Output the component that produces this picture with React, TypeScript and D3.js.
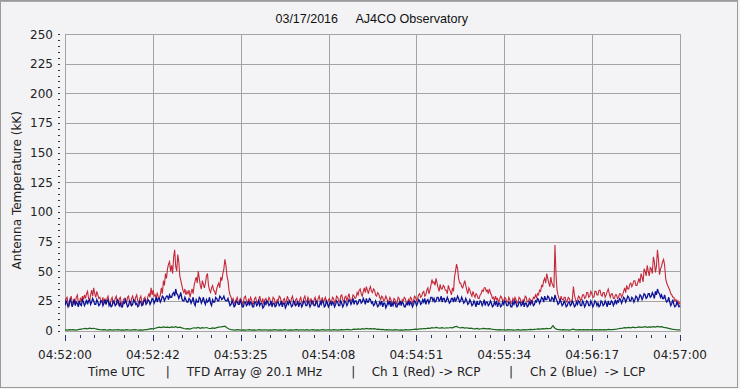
import React from "react";
import * as d3 from "d3";

// Time axis: seconds after 04:52:00 UTC (0..300 s)
const xTickLabels = ["04:52:00", "04:52:42", "04:53:25", "04:54:08", "04:54:51", "04:55:34", "04:56:17", "04:57:00"];
const yTickValues = [0, 25, 50, 75, 100, 125, 150, 175, 200, 225, 250];
const titleDate = "03/17/2016";
const titleSite = "AJ4CO Observatory";
const captionParts = ["Time UTC", "|", "TFD Array @ 20.1 MHz", "|", "Ch 1 (Red) -> RCP", "|", "Ch 2 (Blue)  -> LCP"];

// Ch 1 (Red) -> RCP, two samples per second (each row = 10 s)
const redSeries = [
  22, 27, 28, 23, 21, 26, 29, 24, 23, 27, 22, 28, 30, 24, 23, 27, 25, 29, 26, 30,
  27, 31, 33, 27, 25, 30, 34, 29, 36, 31, 28, 33, 30, 27, 28, 25, 24, 28, 23, 27,
  22, 27, 29, 24, 21, 26, 28, 23, 24, 27, 29, 24, 22, 27, 28, 23, 21, 26, 27, 24,
  23, 28, 29, 24, 22, 27, 29, 25, 24, 28, 30, 25, 23, 27, 29, 24, 22, 27, 28, 24,
  25, 29, 31, 28, 36, 30, 34, 29, 30, 27, 32, 28, 27, 30, 36, 31, 42, 38, 48, 44,
  52, 56, 58, 50, 55, 48, 62, 68, 54, 50, 64, 58, 46, 42, 38, 34, 32, 35, 30, 33,
  31, 34, 28, 32, 35, 31, 38, 42, 45, 40, 50, 44, 38, 35, 42, 39, 36, 40, 46, 48,
  38, 34, 32, 36, 38, 34, 33, 30, 35, 38, 40, 36, 45, 42, 48, 52, 60, 55, 46, 42,
  34, 30, 28, 25, 27, 24, 22, 26, 28, 24, 23, 27, 26, 22, 24, 28, 29, 25, 22, 26,
  24, 28, 26, 22, 23, 27, 28, 24, 23, 26, 29, 25, 24, 27, 22, 26, 27, 23, 25, 28,
  26, 22, 23, 28, 27, 24, 22, 26, 25, 29, 28, 24, 22, 26, 27, 23, 25, 29, 26, 24,
  23, 27, 29, 24, 22, 26, 27, 23, 22, 26, 28, 24, 23, 27, 29, 25, 24, 28, 26, 23,
  27, 23, 22, 26, 28, 24, 23, 27, 29, 25, 24, 28, 23, 26, 28, 24, 22, 26, 27, 24,
  24, 28, 27, 23, 25, 29, 28, 25, 24, 29, 30, 26, 24, 28, 29, 25, 28, 31, 27, 25,
  26, 30, 29, 27, 28, 32, 30, 34, 35, 31, 29, 33, 36, 32, 37, 34, 31, 35, 37, 33,
  32, 35, 34, 30, 29, 32, 31, 28, 26, 29, 28, 25, 26, 29, 27, 24, 25, 28, 26, 23,
  23, 27, 26, 22, 24, 28, 27, 23, 22, 26, 25, 28, 27, 23, 22, 26, 24, 28, 27, 23,
  25, 29, 28, 25, 27, 30, 31, 28, 29, 32, 33, 29, 30, 34, 36, 31, 34, 38, 43, 40,
  41, 38, 44, 40, 36, 33, 39, 35, 35, 38, 37, 34, 34, 31, 38, 35, 33, 30, 36, 33,
  45, 50, 56, 52, 44, 40, 40, 37, 36, 39, 42, 38, 34, 31, 36, 34, 31, 29, 33, 30,
  28, 31, 30, 27, 27, 30, 31, 34, 33, 36, 36, 33, 34, 31, 35, 32, 30, 27, 28, 25,
  29, 26, 27, 24, 26, 29, 28, 25, 25, 28, 27, 24, 24, 28, 26, 23, 23, 27, 25, 28,
  26, 23, 24, 28, 27, 24, 23, 26, 25, 29, 28, 24, 24, 27, 26, 23, 25, 28, 27, 30,
  28, 31, 30, 34, 33, 38, 37, 42, 44, 40, 48, 44, 40, 37, 45, 40, 38, 36, 72, 48,
  34, 30, 27, 25, 29, 26, 26, 28, 28, 24, 25, 28, 27, 24, 24, 27, 37, 30, 26, 24,
  26, 29, 28, 25, 27, 30, 30, 27, 28, 32, 32, 28, 29, 33, 31, 28, 28, 33, 33, 30,
  30, 34, 34, 30, 29, 32, 32, 28, 30, 33, 35, 31, 28, 31, 31, 27, 27, 30, 30, 27,
  28, 31, 31, 28, 30, 33, 36, 32, 38, 35, 35, 39, 40, 37, 39, 42, 42, 38, 38, 41,
  44, 40, 48, 45, 41, 52, 50, 46, 55, 50, 46, 53, 52, 48, 62, 58, 49, 54, 68, 60,
  47, 52, 54, 58, 60, 55, 44, 40, 38, 36, 34, 31, 30, 28, 28, 25, 26, 23, 25, 22,
  24,
];

// Ch 2 (Blue) -> LCP, two samples per second
const blueSeries = [
  21, 25, 23, 20, 22, 26, 24, 20, 23, 26, 21, 24, 23, 20, 25, 22, 21, 26, 24, 21,
  23, 26, 22, 25, 26, 22, 24, 27, 25, 22, 22, 26, 24, 21, 22, 25, 25, 21, 23, 26,
  22, 25, 26, 21, 23, 20, 21, 25, 24, 21, 22, 26, 25, 21, 23, 20, 20, 24, 23, 26,
  23, 20, 21, 25, 24, 21, 22, 26, 25, 22, 23, 20, 21, 25, 24, 21, 22, 25, 26, 22,
  23, 26, 25, 22, 24, 27, 26, 23, 25, 28, 24, 27, 27, 24, 26, 29, 28, 25, 27, 29,
  29, 26, 30, 28, 28, 31, 32, 29, 35, 31, 30, 27, 29, 32, 27, 25, 25, 28, 26, 24,
  24, 27, 26, 23, 25, 28, 23, 21, 26, 24, 24, 28, 27, 23, 25, 28, 24, 22, 26, 24,
  25, 28, 23, 21, 26, 24, 24, 28, 27, 25, 25, 29, 28, 26, 27, 29, 26, 25, 25, 27,
  24, 21, 22, 25, 23, 20, 21, 25, 24, 22, 22, 26, 23, 20, 20, 24, 24, 21, 22, 25,
  21, 24, 23, 20, 20, 24, 24, 21, 22, 26, 21, 23, 23, 19, 20, 24, 22, 25, 24, 21,
  22, 25, 20, 23, 23, 20, 21, 24, 24, 21, 22, 25, 20, 23, 23, 19, 21, 24, 22, 25,
  23, 20, 21, 25, 24, 21, 22, 25, 20, 23, 23, 20, 22, 25, 24, 21, 21, 25, 23, 20,
  22, 25, 24, 21, 21, 25, 23, 20, 20, 24, 22, 25, 24, 20, 21, 25, 23, 20, 22, 25,
  21, 24, 23, 20, 22, 25, 24, 21, 21, 25, 23, 20, 22, 25, 24, 21, 23, 26, 25, 22,
  24, 27, 22, 25, 25, 22, 23, 26, 26, 23, 24, 27, 25, 22, 27, 24, 24, 27, 26, 23,
  24, 21, 22, 25, 23, 20, 21, 24, 22, 25, 20, 23, 23, 19, 21, 24, 22, 25, 20, 23,
  21, 24, 23, 20, 20, 23, 22, 25, 21, 24, 23, 20, 20, 23, 22, 25, 21, 24, 23, 20,
  22, 25, 24, 21, 23, 26, 25, 22, 23, 26, 24, 27, 22, 25, 26, 23, 25, 28, 28, 25,
  27, 24, 25, 28, 28, 25, 26, 29, 24, 27, 27, 24, 25, 28, 26, 23, 24, 27, 27, 24,
  28, 25, 26, 29, 27, 24, 25, 28, 26, 23, 24, 27, 25, 22, 23, 26, 24, 21, 22, 25,
  23, 20, 25, 22, 22, 25, 24, 21, 23, 26, 21, 24, 24, 21, 22, 25, 23, 20, 21, 24,
  22, 25, 20, 23, 23, 20, 21, 24, 22, 25, 24, 21, 21, 24, 23, 20, 20, 24, 22, 25,
  23, 20, 21, 24, 24, 21, 22, 25, 20, 23, 23, 20, 21, 24, 22, 25, 24, 21, 22, 25,
  24, 27, 26, 23, 25, 28, 27, 24, 29, 26, 26, 29, 28, 25, 25, 28, 27, 24, 30, 27,
  25, 22, 23, 26, 24, 21, 22, 25, 23, 20, 21, 24, 24, 21, 22, 25, 23, 20, 21, 24,
  22, 25, 24, 21, 21, 25, 23, 20, 22, 25, 24, 21, 21, 25, 23, 20, 22, 25, 24, 21,
  23, 20, 21, 25, 24, 21, 22, 25, 23, 20, 25, 22, 22, 25, 24, 21, 23, 26, 22, 25,
  24, 27, 26, 23, 25, 28, 27, 24, 26, 29, 28, 25, 25, 28, 27, 24, 26, 29, 28, 25,
  27, 30, 29, 26, 28, 31, 30, 27, 28, 31, 31, 28, 29, 32, 30, 27, 33, 30, 35, 32,
  31, 28, 30, 27, 27, 30, 26, 24, 25, 28, 24, 21, 23, 26, 22, 20, 21, 24, 22, 20,
  21,
];

// Green trace near zero, one sample per second
const greenSeries = [
  0.6, 0.4, 0.8, 0.5, 0.7, 0.3, 0.6, 0.9, 1.2, 1.5,
  1.8, 1.4, 2.0, 1.6, 1.9, 1.3, 1.0, 0.7, 0.5, 0.8,
  0.5, 0.3, 0.7, 0.4, 0.6, 0.5, 0.8, 0.4, 0.6, 0.3,
  0.7, 0.5, 0.4, 0.6, 0.8, 0.5, 0.3, 0.6, 0.4, 0.7,
  0.8, 1.2, 1.6, 1.3, 1.9, 2.4, 2.8, 2.5, 3.0, 2.6,
  2.9, 2.4, 3.1, 2.7, 3.2, 2.5, 2.8, 2.2, 1.7, 1.4,
  1.6, 1.2, 1.9, 2.3, 2.0, 2.6, 1.8, 2.4, 2.1, 2.5,
  1.9, 1.6, 2.2, 1.8, 2.4, 2.8, 3.0, 3.3, 3.6, 2.4,
  1.3, 0.8, 0.6, 0.4, 0.7, 0.5, 0.3, 0.6, 0.4, 0.5,
  0.7, 0.4, 0.6, 0.3, 0.5, 0.8, 0.4, 0.6, 0.5, 0.3,
  0.6, 0.4, 0.7, 0.5, 0.3, 0.6, 0.4, 0.8, 0.5, 0.4,
  0.6, 0.3, 0.5, 0.7, 0.4, 0.6, 0.5, 0.3, 0.7, 0.4,
  0.5, 0.8, 0.4, 0.6, 0.3, 0.5, 0.7, 0.4, 0.6, 0.5,
  0.4, 0.7, 0.5, 0.3, 0.6, 0.8, 0.5, 0.7, 0.9, 0.6,
  0.8, 1.1, 0.9, 1.3, 1.0, 1.5, 1.2, 1.7, 1.4, 1.6,
  1.3, 1.5, 1.0, 1.2, 0.8, 0.9, 0.6, 0.7, 0.5, 0.6,
  0.4, 0.7, 0.5, 0.3, 0.6, 0.4, 0.7, 0.5, 0.6, 0.8,
  0.9, 1.2, 1.0, 1.4, 1.3, 1.7, 1.5, 2.0, 1.8, 2.4,
  2.1, 2.6, 2.2, 2.0, 2.4, 1.9, 2.3, 2.1, 2.5, 2.2,
  3.0, 3.4, 2.5, 2.2, 2.6, 2.0, 2.3, 1.8, 2.0, 1.6,
  1.4, 1.7, 1.2, 1.5, 1.8, 1.6, 1.3, 1.5, 1.1, 0.9,
  0.8, 0.6, 0.7, 0.5, 0.6, 0.4, 0.7, 0.5, 0.6, 0.4,
  0.5, 0.7, 0.4, 0.6, 0.8, 0.5, 0.7, 0.9, 0.8, 1.0,
  1.1, 1.3, 1.2, 1.6, 1.4, 1.8, 1.5, 1.7, 4.0, 1.9,
  1.0, 0.8, 0.6, 0.7, 0.5, 0.6, 0.4, 0.7, 1.2, 0.6,
  0.5, 0.7, 0.6, 0.8, 0.5, 0.7, 0.6, 0.8, 0.5, 0.7,
  0.6, 0.8, 0.5, 0.7, 0.6, 0.9, 0.7, 0.8, 1.0, 1.2,
  1.5, 1.8, 2.0, 2.4, 2.2, 2.6, 2.3, 2.8, 2.5, 2.7,
  3.0, 2.6, 2.9, 3.2, 2.7, 3.1, 2.8, 3.3, 2.9, 3.5,
  3.0, 3.2, 2.7, 2.4, 2.0, 1.6, 1.2, 0.9, 0.7, 0.6,
  0.5,
];

const W = 740;
const H = 389;
const FONT = "'DejaVu Sans', Verdana, sans-serif";

export default function App() {
  const duration = 300;
  const x = d3.scaleLinear().domain([0, duration]).range([65, 680]);
  const y = d3.scaleLinear().domain([0, 250]).range([330.5, 34]);

  const makeLine = (n: number) =>
    d3
      .line<number>()
      .x((_, i) => x((i * duration) / (n - 1)))
      .y((d) => y(d));

  const majorT = d3.range(xTickLabels.length).map((i) => (i * duration) / (xTickLabels.length - 1));
  const minorT = d3.range((xTickLabels.length - 1) * 6 + 1).map((i) => (i * duration) / ((xTickLabels.length - 1) * 6));
  const yMinor = d3.range(0, 251, 5);

  const px = (v: number) => Math.round(v) + 0.5;
  const gridColor = "#a4a4a4";

  const captionX = [88, 167.7, 186.7, 353.3, 371.7, 511, 530];

  return (
    <div style={{ position: "absolute", left: 0, top: 0 }}>
      <svg width={W} height={H} viewBox={`0 0 ${W} ${H}`} style={{ display: "block" }}>
        <rect x={0} y={0} width={W} height={H} fill="#f3f3f5" />
        <rect x={0.5} y={0.5} width={737} height={387} fill="none" stroke="#9a9a9a" />
        <line x1={0} x2={738} y1={1.5} y2={1.5} stroke="#a8a8a8" />

        {/* Title */}
        <text x={275.5} y={23} fontFamily="'Liberation Sans Narrow', 'Liberation Sans', Arial, sans-serif" fontSize={13} fill="#111" textLength={62.5} lengthAdjust="spacingAndGlyphs">
          {titleDate}
        </text>
        <text x={355.4} y={23} fontFamily="'Liberation Sans Narrow', 'Liberation Sans', Arial, sans-serif" fontSize={13} fill="#111" textLength={112.6} lengthAdjust="spacingAndGlyphs">
          {titleSite}
        </text>

        {/* Plot area */}
        <rect x={px(x(0))} y={px(y(250))} width={Math.round(x(duration)) - Math.round(x(0))} height={Math.round(y(0)) - Math.round(y(250))} fill="#f4f4f6" />

        {/* Horizontal grid */}
        {yTickValues.map((v) => (
          <line key={"hg" + v} x1={x(0)} x2={x(duration)} y1={px(y(v))} y2={px(y(v))} stroke={gridColor} strokeWidth={1} />
        ))}
        {/* Vertical grid */}
        {majorT.map((t, i) => (
          <line key={"vg" + i} x1={px(x(t))} x2={px(x(t))} y1={y(250)} y2={y(0)} stroke={gridColor} strokeWidth={1} />
        ))}
        <rect x={px(x(0))} y={px(y(250))} width={Math.round(x(duration)) - Math.round(x(0))} height={Math.round(y(0)) - Math.round(y(250))} fill="none" stroke={gridColor} />

        {/* Data lines */}
        <g clipPath="url(#plotclip)">
          <path d={makeLine(greenSeries.length)(greenSeries) || ""} fill="none" stroke="#1a661a" strokeWidth={1.2} />
          <path d={makeLine(redSeries.length)(redSeries) || ""} fill="none" stroke="#c4283a" strokeWidth={1.1} />
          <path d={makeLine(blueSeries.length)(blueSeries) || ""} fill="none" stroke="#0c1296" strokeWidth={1.3} />
        </g>
        <defs>
          <clipPath id="plotclip">
            <rect x={x(0)} y={y(250)} width={x(duration) - x(0) + 1} height={y(0) - y(250) + 1} />
          </clipPath>
        </defs>

        {/* Y axis minor ticks */}
        {yMinor.map((v) => (
          <line key={"ym" + v} x1={58} x2={60} y1={px(y(v))} y2={px(y(v))} stroke="#333" strokeWidth={1} />
        ))}
        {/* Y labels */}
        {yTickValues.map((v) => (
          <text key={"yl" + v} x={53} y={y(v) + 4.5} textAnchor="end" fontFamily={FONT} fontSize={12} fill="#222">
            {v}
          </text>
        ))}
        <text transform={`translate(21, ${(y(0) + y(250)) / 2 + 8}) rotate(-90)`} textAnchor="middle" fontFamily={FONT} fontSize={12} fill="#222">
          Antenna Temperature (kK)
        </text>

        {/* X ticks */}
        {minorT.map((t, i) => (
          <line key={"xm" + i} x1={px(x(t))} x2={px(x(t))} y1={335} y2={i % 6 === 0 ? 341 : 338} stroke="#2a3a66" strokeWidth={1} />
        ))}
        {majorT.map((t, i) => (
          <text key={"xl" + i} x={x(t)} y={359} textAnchor="middle" fontFamily={FONT} fontSize={12} fill="#222">
            {xTickLabels[i]}
          </text>
        ))}

        {/* Caption */}
        {captionParts.map((s, i) => (
          <text key={"cap" + i} x={captionX[i]} y={376} textAnchor={s === "|" ? "middle" : "start"} fontFamily={FONT} fontSize={12} fill="#222" style={{ whiteSpace: "pre" }}>
            {s}
          </text>
        ))}
      </svg>
    </div>
  );
}
